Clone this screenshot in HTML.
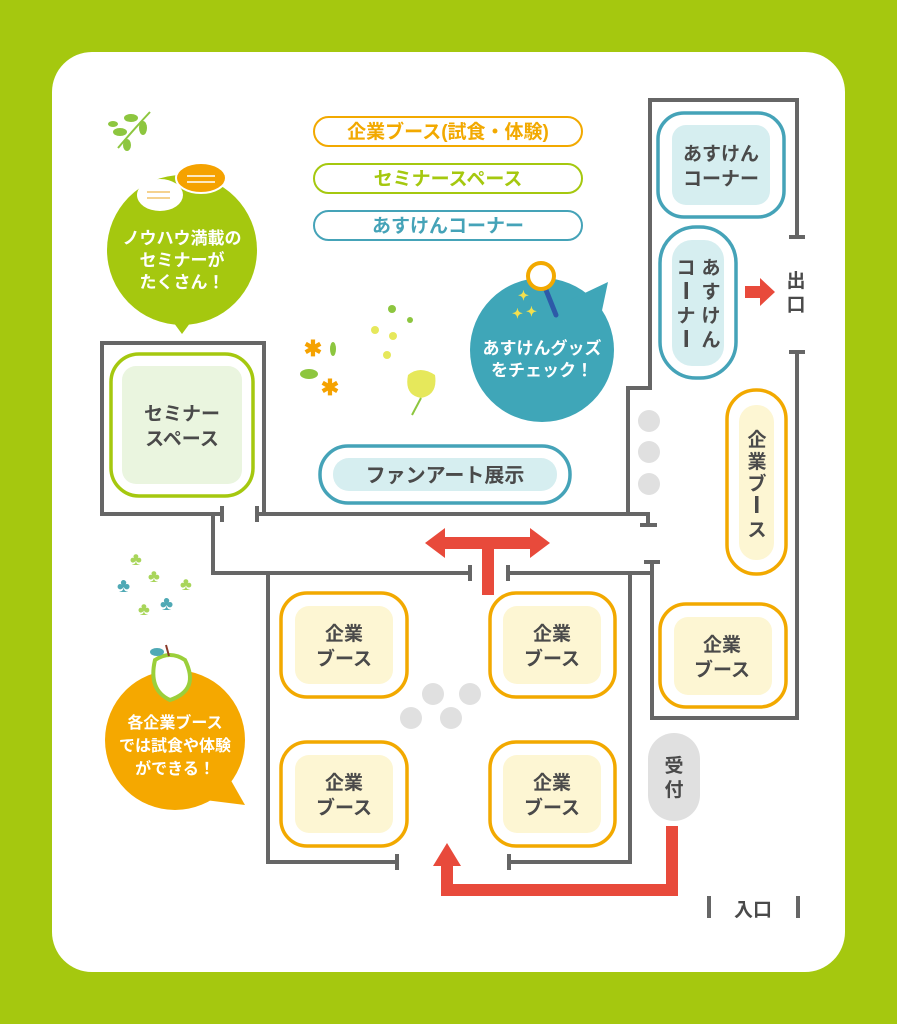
<!DOCTYPE html>
<html><head><meta charset="utf-8"><style>
html,body{margin:0;padding:0;background:#a5c80f;}
svg{display:block}
text{font-family:"Liberation Sans","Noto Sans CJK JP",sans-serif;font-weight:bold}
</style></head><body>
<svg width="897" height="1024" viewBox="0 0 897 1024" xmlns="http://www.w3.org/2000/svg">
<rect width="897" height="1024" fill="#a5c80f"/>
<rect x="52" y="52" width="793" height="920" rx="40" fill="#fff"/>

<g stroke="#666" stroke-width="4" fill="none">
<polyline points="222,514 102,514 102,343 264,343 264,514"/>
<line x1="222" y1="506" x2="222" y2="522"/>
<polyline points="257,514 628,514 628,388 650,388 650,100 797,100 797,237"/>
<line x1="257" y1="506" x2="257" y2="522"/>
<line x1="789" y1="237" x2="805" y2="237"/>
<polyline points="628,514 648,514 648,525"/><line x1="640" y1="525" x2="657" y2="525"/>
<polyline points="213,514 213,573 470,573"/><line x1="470" y1="565" x2="470" y2="581"/>
<polyline points="508,573 652,573"/><line x1="508" y1="565" x2="508" y2="581"/>
<polyline points="652,562 652,718 797,718 797,352"/>
<line x1="644" y1="562" x2="660" y2="562"/><line x1="789" y1="352" x2="805" y2="352"/>
<polyline points="397,862 268,862 268,573"/><line x1="397" y1="854" x2="397" y2="870"/>
<polyline points="509,862 630,862 630,573"/><line x1="509" y1="854" x2="509" y2="870"/>
<line x1="709" y1="896" x2="709" y2="918"/><line x1="798" y1="896" x2="798" y2="918"/>
</g>

<g fill="#e84a3b">
<rect x="482" y="543" width="12" height="52"/>
<polygon points="425,543 445,528 445,537 530,537 530,528 550,543 530,558 530,549 445,549 445,558"/>
<polygon points="666,826 678,826 678,896 441,896 441,866 433,866 447,843 461,866 453,866 453,884 666,884"/>
<polygon points="745,286 760,286 760,278 775,292 760,306 760,298 745,298"/>
</g>

<g fill="#e0e0e0">
<circle cx="649" cy="421" r="11"/><circle cx="649" cy="452" r="11"/><circle cx="649" cy="484" r="11"/>
<circle cx="433" cy="694" r="11"/><circle cx="470" cy="694" r="11"/><circle cx="411" cy="718" r="11"/><circle cx="451" cy="718" r="11"/>
<rect x="648" y="733" width="52" height="88" rx="26"/>
</g>

<g stroke="#f2a900" stroke-width="3.5" fill="#fff">
<rect x="281" y="593" width="126" height="104" rx="26"/>
<rect x="490" y="593" width="125" height="104" rx="26"/>
<rect x="281" y="742" width="126" height="104" rx="26"/>
<rect x="490" y="742" width="125" height="104" rx="26"/>
<rect x="660" y="604" width="126" height="103" rx="26"/>
<rect x="727" y="390" width="59" height="184" rx="29"/>
</g>
<g fill="#fdf6d3">
<rect x="295" y="606" width="98" height="78" rx="14"/>
<rect x="503" y="606" width="98" height="78" rx="14"/>
<rect x="295" y="755" width="98" height="78" rx="14"/>
<rect x="503" y="755" width="98" height="78" rx="14"/>
<rect x="674" y="617" width="98" height="78" rx="14"/>
<rect x="739" y="405" width="35" height="155" rx="17"/>
</g>
<g stroke="#45a3b8" stroke-width="3.5" fill="#fff">
<rect x="658" y="113" width="126" height="104" rx="26"/>
<rect x="660" y="227" width="76" height="151" rx="36"/>
<rect x="320" y="446" width="250" height="57" rx="28"/>
</g>
<g fill="#d6eef0">
<rect x="672" y="125" width="98" height="80" rx="14"/>
<rect x="672" y="240" width="52" height="126" rx="20"/>
<rect x="333" y="458" width="224" height="33" rx="16"/>
</g>
<rect x="111" y="354" width="142" height="142" rx="28" fill="#fff" stroke="#a5c80f" stroke-width="3.5"/>
<rect x="122" y="366" width="120" height="118" rx="14" fill="#eaf5df"/>

<g fill="#4a4a4a" font-size="19" text-anchor="middle">
<text x="344" y="640">企業</text><text x="344" y="665">ブース</text>
<text x="552" y="640">企業</text><text x="552" y="665">ブース</text>
<text x="344" y="789">企業</text><text x="344" y="814">ブース</text>
<text x="552" y="789">企業</text><text x="552" y="814">ブース</text>
<text x="722" y="651">企業</text><text x="722" y="676">ブース</text>
<text x="757" y="446">企</text><text x="757" y="468">業</text><text x="757" y="490">ブ</text><text x="757" y="536">ス</text>
<text x="721" y="160">あすけん</text><text x="721" y="185">コーナー</text>
<text x="711" y="274">あ</text><text x="711" y="298">す</text><text x="711" y="322">け</text><text x="711" y="346">ん</text>
<text x="686" y="274">コ</text><text x="686" y="322">ナ</text>
<text x="182" y="420">セミナー</text><text x="182" y="445">スペース</text>
<text x="445" y="482" font-size="20">ファンアート展示</text>
<text x="674" y="772">受</text><text x="674" y="796">付</text>
<text x="796" y="287">出</text><text x="796" y="311">口</text>
<text x="753" y="916">入口</text>
</g>
<g fill="#4a4a4a">
<rect x="755" y="496" width="3.5" height="17"/>
<rect x="684.5" y="282" width="3.5" height="17"/>
<rect x="684.5" y="330" width="3.5" height="17"/>
</g>

<g stroke-width="2" fill="#fff">
<rect x="314" y="117" width="268" height="29" rx="14.5" stroke="#f2a900"/>
<rect x="314" y="164" width="268" height="29" rx="14.5" stroke="#a5c80f"/>
<rect x="314" y="211" width="268" height="29" rx="14.5" stroke="#45a3b8"/>
</g>
<g font-size="19" text-anchor="middle">
<text x="448" y="138" fill="#f2a900">企業ブース(試食・体験)</text>
<text x="448" y="185" fill="#a5c80f">セミナースペース</text>
<text x="448" y="232" fill="#45a3b8">あすけんコーナー</text>
</g>

<circle cx="182" cy="250" r="75" fill="#a5c80f"/>
<polygon points="168,315 196,315 182,334" fill="#a5c80f"/>
<ellipse cx="160" cy="195" rx="23" ry="16" fill="#fff"/>
<ellipse cx="201" cy="178" rx="25" ry="15" fill="#f5a200" stroke="#fff" stroke-width="2"/>
<g stroke="#f2c36a" stroke-width="1.5"><line x1="147" y1="192" x2="170" y2="192"/><line x1="147" y1="198" x2="170" y2="198"/></g>
<g stroke="#fff" stroke-width="1.5"><line x1="187" y1="176" x2="215" y2="176"/><line x1="187" y1="182" x2="215" y2="182"/></g>
<g fill="#fff" font-size="17" text-anchor="middle">
<text x="182" y="244">ノウハウ満載の</text><text x="182" y="266">セミナーが</text><text x="182" y="288">たくさん！</text>
</g>

<circle cx="542" cy="350" r="72" fill="#3fa6b8"/>
<polygon points="570,300 608,282 600,320" fill="#3fa6b8"/>
<line x1="546" y1="290" x2="556" y2="315" stroke="#2d5aa8" stroke-width="5" stroke-linecap="round"/>
<circle cx="541" cy="276" r="13" fill="#fff" stroke="#f2a900" stroke-width="4"/>
<g fill="#f4e04d" font-size="13"><text x="518" y="300">✦</text><text x="512" y="318">✦</text><text x="526" y="316">✦</text></g>
<g fill="#fff" font-size="17" text-anchor="middle">
<text x="542" y="354">あすけんグッズ</text><text x="542" y="376">をチェック！</text>
</g>

<circle cx="175" cy="740" r="70" fill="#f5a800"/>
<polygon points="225,770 245,805 205,800" fill="#f5a800"/>
<path d="M155,660 Q170,650 185,660 Q200,690 170,700 Q148,690 155,660Z" fill="#fff" stroke="#9bcf3a" stroke-width="4"/>
<line x1="169" y1="656" x2="166" y2="645" stroke="#8a3a2a" stroke-width="2"/>
<ellipse cx="157" cy="652" rx="7" ry="4" fill="#4fa9b5"/>
<g fill="#fff" font-size="16" text-anchor="middle">
<text x="175" y="728">各企業ブース</text><text x="175" y="751">では試食や体験</text><text x="175" y="774">ができる！</text>
</g>

<g fill="#8dc63f">
<path d="M118,148 Q135,128 150,112" stroke="#8dc63f" stroke-width="2" fill="none"/>
<ellipse cx="120" cy="132" rx="7" ry="4"/><ellipse cx="131" cy="118" rx="7" ry="4"/><ellipse cx="143" cy="128" rx="4" ry="7"/><ellipse cx="127" cy="145" rx="4" ry="6"/><ellipse cx="113" cy="124" rx="5" ry="3"/>
<ellipse cx="309" cy="374" rx="9" ry="5"/><ellipse cx="333" cy="349" rx="3" ry="7"/>
<circle cx="392" cy="309" r="4"/><circle cx="410" cy="320" r="3"/>
</g>
<g fill="#f5a200" font-size="22" text-anchor="middle"><text x="313" y="356">✱</text><text x="330" y="395">✱</text></g>
<g fill="#e6e85b"><circle cx="375" cy="330" r="4"/><circle cx="393" cy="336" r="4"/><circle cx="387" cy="355" r="4"/>
<path d="M408,375 Q420,365 435,375 Q438,395 421,398 Q404,395 408,375Z"/></g>
<line x1="421" y1="398" x2="412" y2="415" stroke="#8dc63f" stroke-width="2"/>
<g fill="#4fa9b5" font-size="20"><text x="117" y="592">♣</text><text x="160" y="610">♣</text></g>
<g fill="#a8d55a" font-size="18"><text x="130" y="565">♣</text><text x="148" y="582">♣</text><text x="180" y="590">♣</text><text x="138" y="615">♣</text></g>
</svg>
</body></html>
